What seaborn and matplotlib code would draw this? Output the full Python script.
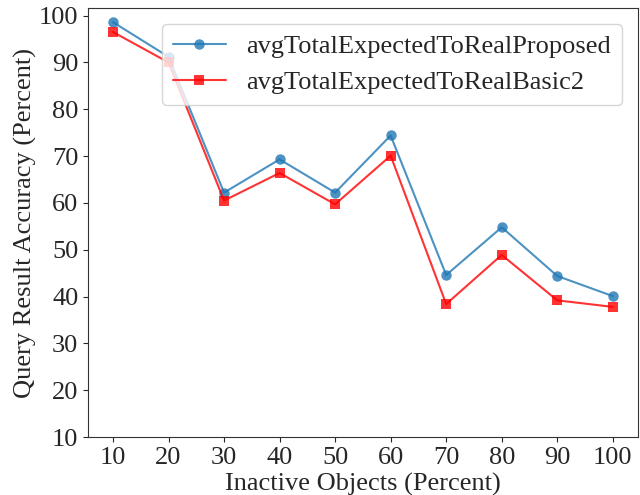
import pandas as pd
import seaborn as sns
import matplotlib.pyplot as plt

# Inactive objects (percent)
inactive = [10, 20, 30, 40, 50, 60, 70, 80, 90, 100]
proposed = [98.6, 91.2, 62.2, 69.3, 62.2, 74.4, 44.6, 54.8, 44.4, 40.1]
basic2 = [96.5, 90.0, 60.5, 66.4, 59.7, 70.1, 38.4, 48.9, 39.2, 37.8]

df = pd.DataFrame({"x": inactive, "proposed": proposed, "basic2": basic2})

sns.set_style("ticks")
plt.rcParams["font.family"] = ["Liberation Serif", "DejaVu Serif"]

fig = plt.figure(figsize=(6.4, 4.95), dpi=100)
ax = fig.add_axes([0.1375, 0.117, 0.859, 0.867])

sns.lineplot(data=df, x="x", y="proposed", ax=ax, color="#1f77b4", marker="o",
             markersize=7.5, markeredgewidth=0, alpha=0.8,
             label="avgTotalExpectedToRealProposed")
sns.lineplot(data=df, x="x", y="basic2", ax=ax, color="red", marker="s",
             markersize=7.5, markeredgewidth=0, alpha=0.8,
             label="avgTotalExpectedToRealBasic2")

ax.set_xticks(inactive)
ax.set_yticks(range(10, 101, 10))
ax.set_ylim(bottom=10)
ax.set_xlabel("Inactive Objects (Percent)", fontsize=19, labelpad=3)
ax.set_ylabel("Query Result Accuracy (Percent)", fontsize=19, labelpad=1)
ax.tick_params(labelsize=19)
for s in ax.spines.values():
    s.set_color("#333333")
ax.legend(loc="upper right", fontsize=19, borderaxespad=0.6)

fig.savefig("out.png", dpi=100)
